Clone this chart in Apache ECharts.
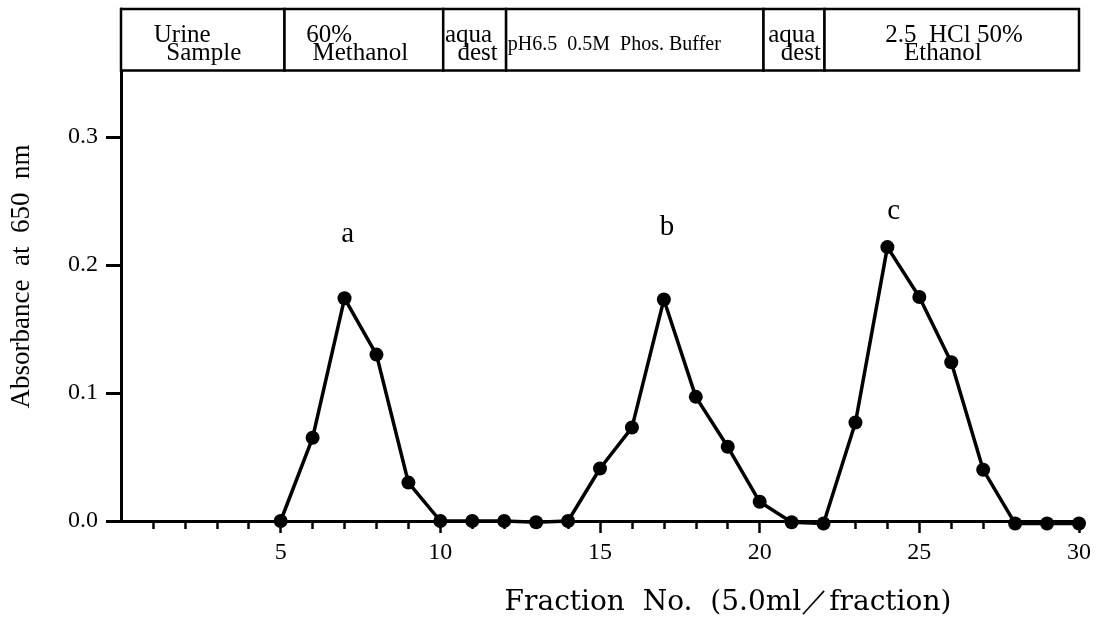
<!DOCTYPE html>
<html>
<head>
<meta charset="utf-8">
<title>Absorbance per fraction</title>
<script src="https://cdn.jsdelivr.net/npm/echarts@6/dist/echarts.min.js"></script>
<style>
  html, body { margin: 0; padding: 0; background: #fff; }
  #chart { width: 1105px; height: 622px; }
</style>
</head>
<body>
<div id="chart"></div>
<script>
  // values
  const fractions = [5, 6, 7, 8, 9, 10, 11, 12, 13, 14, 15, 16, 17, 18, 19, 20, 21, 22, 23, 24, 25, 26, 27, 28, 29, 30]
  const absorbance = [0, 0.065, 0.174, 0.130, 0.030, 0, 0, 0, -0.001, 0, 0.041, 0.073, 0.173, 0.097, 0.058, 0.015, -0.001, -0.002, 0.077, 0.214, 0.175, 0.124, 0.040, -0.002, -0.002, -0.002]

  const peakNames = ["a", "b", "c"]
  const peakSpots = [[7.1, 0.224], [17.1, 0.229], [24.2, 0.242]]

  const yTicks = [0, 0.1, 0.2, 0.3]
  const xTickLabels = [5, 10, 15, 20, 25, 30]

  // eluent steps in the header strip (fraction no. where each step starts / ends)
  const stepEdges = [0, 5.12, 10.09, 12.06, 20.12, 22.03, 30.09]
  const stepNames = [
    "Urine\n  Sample",
    "60%\n Methanol",
    "aqua\n  dest",
    "pH6.5  0.5M  Phos. Buffer",
    "aqua\n  dest",
    "2.5  HCl 50%\n   Ethanol"
  ]
  const headerBand = [0.352, 0.4]

  // text inset and size per header cell
  const stepInset = [34, 23, 3, 3, 6, 62]
  const stepFont = [25, 25, 25, 20, 25, 25]

  const serif = "Liberation Serif"
  const chart = echarts.init(document.getElementById("chart"))

  const header = stepNames.map((name, i) => [
    {
      name,
      xAxis: stepEdges[i],
      yAxis: headerBand[0],
      label: { distance: stepInset[i], fontSize: stepFont[i] }
    },
    { xAxis: stepEdges[i + 1], yAxis: headerBand[1] }
  ])

  chart.setOption({
    animation: false,
    backgroundColor: "#fff",
    grid: { left: 119, right: 26, top: 9, bottom: 100 },
    xAxis: {
      type: "value",
      min: 0,
      max: 30,
      interval: 5,
      name: "Fraction  No.  (5.0ml／fraction)",
      nameLocation: "middle",
      nameGap: 68,
      nameTextStyle: { color: "#000", fontSize: 28, fontFamily: "DejaVu Serif", padding: [0, 0, 0, 256] },
      axisLine: { show: true, onZero: false, lineStyle: { color: "#000", width: 3 } },
      axisTick: { show: true, length: 12, customValues: xTickLabels, lineStyle: { color: "#000", width: 2.5 } },
      minorTick: { show: true, splitNumber: 5, length: 8, lineStyle: { color: "#000", width: 2.5 } },
      axisLabel: { customValues: xTickLabels, margin: 20, color: "#000", fontSize: 24, fontFamily: serif },
      splitLine: { show: false },
      minorSplitLine: { show: false }
    },
    yAxis: {
      type: "value",
      min: 0,
      max: 0.4,
      interval: 0.1,
      name: "Absorbance  at  650  nm",
      nameLocation: "middle",
      nameGap: 86,
      nameRotate: 90,
      nameTextStyle: { color: "#000", fontSize: 27, fontFamily: serif, padding: [0, 23, 0, 0] },
      axisLine: { show: true, lineStyle: { color: "#000", width: 3 } },
      axisTick: { show: true, length: 15, customValues: yTicks, lineStyle: { color: "#000", width: 3 } },
      axisLabel: {
        customValues: yTicks,
        formatter: v => v.toFixed(1),
        margin: 23,
        color: "#000",
        fontSize: 24,
        fontFamily: serif
      },
      splitLine: { show: false }
    },
    series: [
      {
        type: "line",
        data: fractions.map((f, i) => [f, absorbance[i]]),
        clip: false,
        symbol: "circle",
        symbolSize: 14,
        itemStyle: { color: "#000" },
        lineStyle: { color: "#000", width: 3.5 },
        z: 3,
        markPoint: {
          silent: true,
          symbol: "circle",
          symbolSize: 1,
          itemStyle: { color: "rgba(0,0,0,0)" },
          label: {
            show: true,
            position: "inside",
            formatter: p => p.name,
            color: "#000",
            fontSize: 29,
            fontFamily: serif
          },
          data: peakNames.map((n, i) => ({ name: n, coord: peakSpots[i] }))
        },
        markArea: {
          silent: true,
          itemStyle: { color: "#fff", borderColor: "#000", borderWidth: 2.5 },
          label: {
            show: true,
            position: "insideLeft",
            align: "left",
            offset: [0, 5],
            color: "#000",
            fontSize: 25,
            lineHeight: 18,
            fontFamily: serif
          },
          data: header
        }
      }
    ]
  })
</script>
</body>
</html>
